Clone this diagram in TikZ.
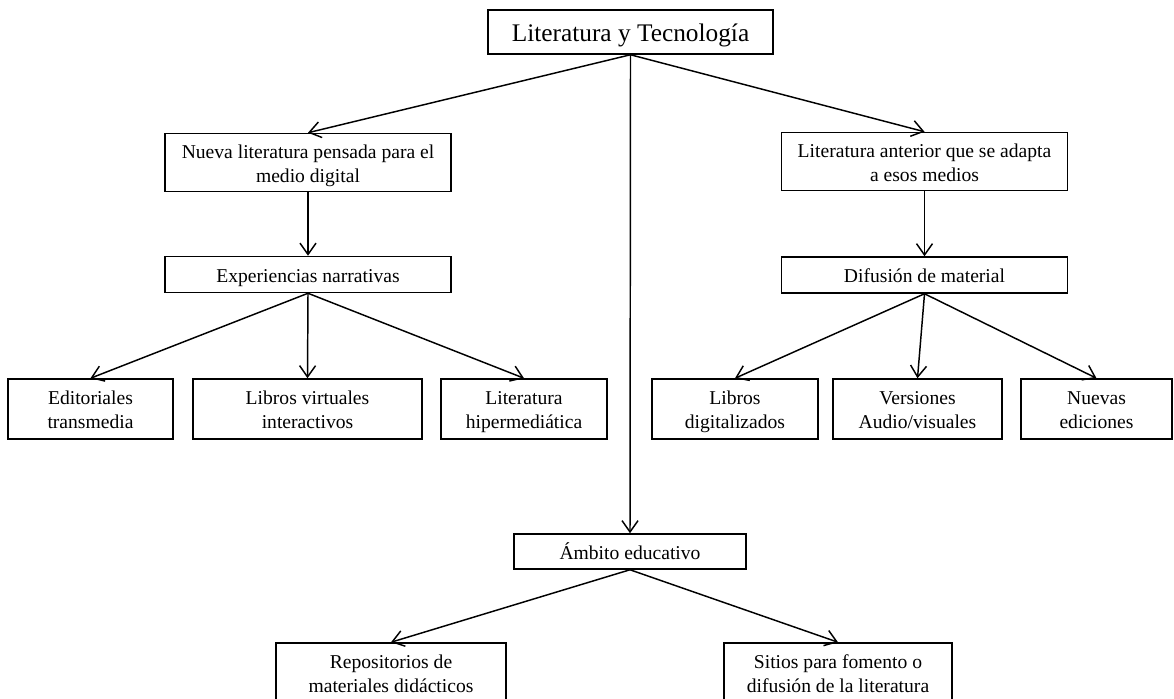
\documentclass[tikz,border=0pt]{standalone}
\usepackage{fontspec}
\setmainfont{Liberation Serif}
\usetikzlibrary{arrows.meta}
\newcommand\st{\rule[-3.2pt]{0pt}{18pt}}
\newcommand\sttitle{\rule[-4pt]{0pt}{23pt}}
\begin{document}
\begin{tikzpicture}[x=0.75pt,y=-0.75pt,
  bx/.style={draw, line width=1.15pt, inner sep=0pt, align=center, font=\fontsize{14.7}{18}\selectfont},
  ar/.style={-{Straight Barb[length=8.5pt,width=12pt,line width=1.1pt]}, line width=1.1pt}]
\useasboundingbox (0,0) rectangle (1174,699);
\clip (0,0) rectangle (1174,699);
\node[bx, minimum width=213.75pt, minimum height=33pt, font=\fontsize{19}{23}\selectfont] (top) at (630.5,32) {\sttitle Literatura y Tecnología};
\node[bx, minimum width=214.5pt, minimum height=43.5pt] (nueva) at (308,162.5) {\st Nueva literatura pensada para el\\\st medio digital};
\node[bx, minimum width=214.5pt, minimum height=43.5pt] (anterior) at (924.5,161.5) {\st Literatura anterior que se adapta\\\st a esos medios};
\node[bx, minimum width=214.5pt, minimum height=27pt] (exper) at (308,274.5) {\st Experiencias narrativas};
\node[bx, minimum width=214.5pt, minimum height=27pt] (difus) at (924.5,275) {\st Difusión de material};
\node[bx, minimum width=123.75pt, minimum height=45pt] (edit) at (90.5,409) {\st Editoriales\\\st transmedia};
\node[bx, minimum width=171.75pt, minimum height=45pt] (librosv) at (307.5,409) {\st Libros virtuales\\\st interactivos};
\node[bx, minimum width=124.5pt, minimum height=45pt] (literh) at (524,409) {\st Literatura\\\st hipermediática};
\node[bx, minimum width=124.5pt, minimum height=45pt] (librosd) at (735,409) {\st Libros\\\st digitalizados};
\node[bx, minimum width=126.75pt, minimum height=45pt] (vers) at (917.5,409) {\st Versiones\\\st Audio/visuales};
\node[bx, minimum width=113.25pt, minimum height=45pt] (nuevas) at (1096.5,409) {\st Nuevas\\\st ediciones};
\node[bx, minimum width=174pt, minimum height=26.25pt] (ambito) at (630,551.5) {\st Ámbito educativo};
\node[bx, minimum width=172.5pt, minimum height=45pt] (repos) at (391,673) {\st Repositorios de\\\st materiales didácticos};
\node[bx, minimum width=171pt, minimum height=45pt] (sitios) at (838,673) {\st Sitios para fomento o\\\st difusión de la literatura};
\draw[ar] (top.south) -- (nueva.north);
\draw[ar] (top.south) -- (anterior.north);
\draw[ar] (top.south) -- (ambito.north);
\draw[ar] (nueva.south) -- (exper.north);
\draw[ar] (anterior.south) -- (difus.north);
\draw[ar] (exper.south) -- (edit.north);
\draw[ar] (exper.south) -- (librosv.north);
\draw[ar] (exper.south) -- (literh.north);
\draw[ar] (difus.south) -- (librosd.north);
\draw[ar] (difus.south) -- (vers.north);
\draw[ar] (difus.south) -- (nuevas.north);
\draw[ar] (ambito.south) -- (repos.north);
\draw[ar] (ambito.south) -- (sitios.north);
\end{tikzpicture}
\end{document}
